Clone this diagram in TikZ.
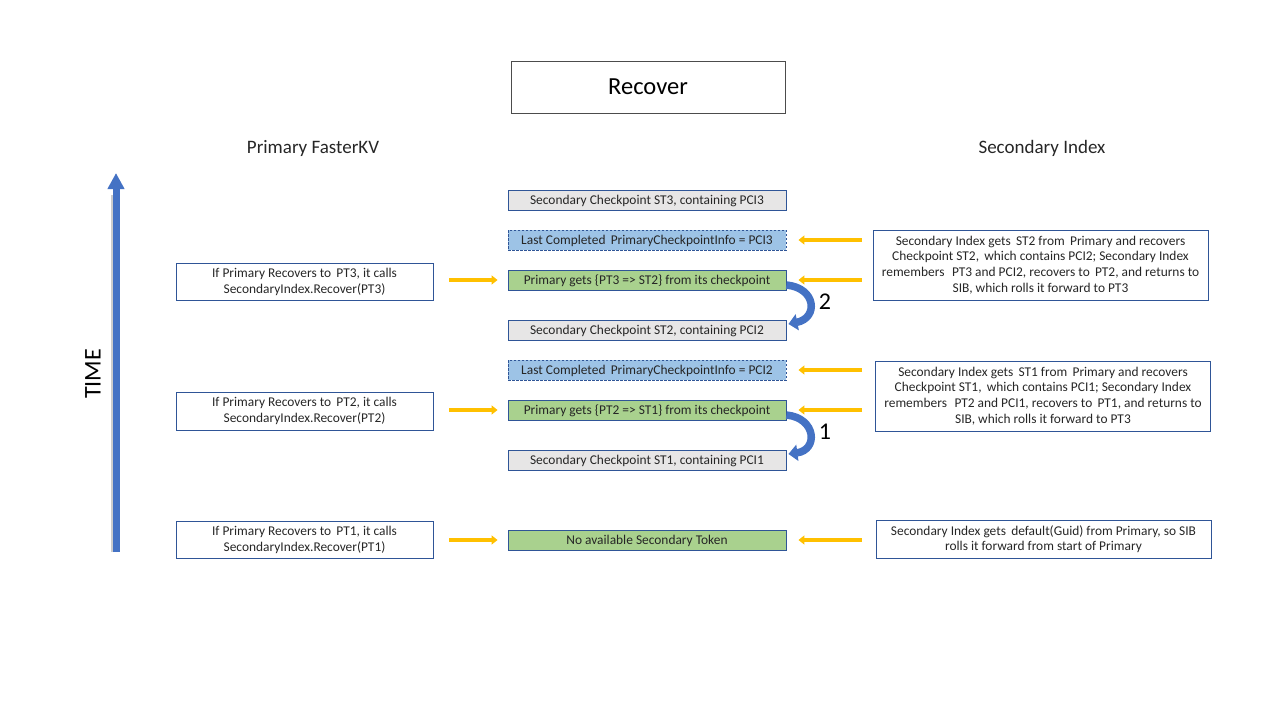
\documentclass[tikz,border=0pt]{standalone}
\usepackage{fontspec}
\setmainfont{Carlito}
\usetikzlibrary{arrows.meta,calc}
\definecolor{bord}{HTML}{2F5597}
\definecolor{grayfill}{HTML}{E7E6E6}
\definecolor{bluefill}{HTML}{9DC3E6}
\definecolor{greenfill}{HTML}{A9D18E}
\definecolor{yel}{HTML}{FFC000}
\definecolor{tblue}{HTML}{4472C4}
\tikzset{
  cbox/.style={draw=bord, line width=0.9pt, minimum width=278pt, minimum height=20pt, inner sep=0pt,
    font=\fontsize{13.4}{15}\selectfont, text=black!85, text depth=1pt},
  gbox/.style={cbox, fill=grayfill},
  bbox/.style={cbox, fill=bluefill, dashed, dash pattern=on 2.5pt off 1.5pt},
  grbox/.style={cbox, fill=greenfill},
  lbox/.style={draw=bord, line width=0.9pt, minimum width=257pt, inner sep=0pt, align=center,
    font=\fontsize{13.4}{16}\selectfont, text=black!85},
  rbox/.style={draw=bord, line width=0.9pt, minimum width=335pt, inner sep=0pt, align=center,
    font=\fontsize{13.4}{15.6}\selectfont, text=black!85},
  yarrow/.style={draw=yel, line width=3.5pt, -{Triangle[length=6pt,width=9pt]}},
  head/.style={font=\fontsize{19}{22}\selectfont, text=black!85},
  carrow/.style={draw=tblue, line width=7.5pt, -{Triangle[length=9pt,width=16pt]}},
}
\begin{document}
\begin{tikzpicture}[x=1pt,y=-1pt]
\useasboundingbox (0,0) rectangle (1280,720);

% title
\node[draw=black!70, line width=0.8pt, minimum width=274pt, minimum height=52pt, font=\fontsize{24.5}{28}\selectfont] (title) at (648,87) {Recover};

\node[head] (hp) at (313,148) {Primary FasterKV};
\node[head] (hs) at (1042,148) {Secondary Index};

% central column
\node[gbox]  (S3) at (647,200) {Secondary Checkpoint ST3, containing PCI3};
\node[bbox]  (C3) at (647,240) {Last Completed\, PrimaryCheckpointInfo = PCI3};
\node[grbox] (P3) at (647,280) {Primary gets \{PT3 => ST2\} from its checkpoint};
\node[gbox]  (S2) at (647,330) {Secondary Checkpoint ST2, containing PCI2};
\node[bbox]  (C2) at (647,370) {Last Completed\, PrimaryCheckpointInfo = PCI2};
\node[grbox] (P2) at (647,410) {Primary gets \{PT2 => ST1\} from its checkpoint};
\node[gbox]  (S1) at (647,460) {Secondary Checkpoint ST1, containing PCI1};
\node[grbox] (P1) at (647,540) {No available Secondary Token};

% left column
\node[lbox, minimum height=37pt] (L3) at (304.5,281.5) {If Primary Recovers to\, PT3, it calls\\SecondaryIndex.Recover(PT3)};
\node[lbox, minimum height=38pt] (L2) at (304.5,411) {If Primary Recovers to\, PT2, it calls\\SecondaryIndex.Recover(PT2)};
\node[lbox, minimum height=37pt] (L1) at (304.5,539.5) {If Primary Recovers to\, PT1, it calls\\SecondaryIndex.Recover(PT1)};

% right column
\node[rbox, minimum height=70pt] (R3) at (1040.5,265) {Secondary Index gets\, ST2 from\, Primary and recovers\\Checkpoint ST2,\, which contains PCI2; Secondary Index\\remembers\,\, PT3 and PCI2, recovers to\, PT2, and returns to\\SIB, which rolls it forward to PT3};
\node[rbox, minimum height=70pt] (R2) at (1043,396) {Secondary Index gets\, ST1 from\, Primary and recovers\\Checkpoint ST1,\, which contains PCI1; Secondary Index\\remembers\,\, PT2 and PCI1, recovers to\, PT1, and returns to\\SIB, which rolls it forward to PT3};
\node[rbox, minimum height=38pt] (R1) at (1043.5,539) {Secondary Index gets\, default(Guid) from Primary, so SIB\\rolls it forward from start of Primary};

% yellow arrows left -> center
\draw[yarrow] ($(L3.east |- P3.west)+(16,0)$) -- ($(P3.west)+(-10,0)$);
\draw[yarrow] ($(L2.east |- P2.west)+(16,0)$) -- ($(P2.west)+(-10,0)$);
\draw[yarrow] ($(L1.east |- P1.west)+(16,0)$) -- ($(P1.west)+(-10,0)$);

% yellow arrows right -> center
\draw[yarrow] ($(R3.west |- C3.east)+(-11,0)$) -- ($(C3.east)+(12,0)$);
\draw[yarrow] ($(R3.west |- P3.east)+(-11,0)$) -- ($(P3.east)+(12,0)$);
\draw[yarrow] ($(R2.west |- C2.east)+(-13,0)$) -- ($(C2.east)+(12,0)$);
\draw[yarrow] ($(R2.west |- P2.east)+(-13,0)$) -- ($(P2.east)+(12,0)$);
\draw[yarrow] ($(R1.west |- P1.east)+(-14,0)$) -- ($(P1.east)+(12,0)$);

% curved blue arrows
\draw[carrow]
  ($(P3.east)+(0,5)$) .. controls ($(P3.east)+(30,8)$) and ($(P3.east)+(32,38)$) .. ($(S2.east)+(2,-6)$);
\node[font=\fontsize{24}{28}\selectfont] (n2) at (825,302) {2};
\draw[carrow]
  ($(P2.east)+(0,5)$) .. controls ($(P2.east)+(30,8)$) and ($(P2.east)+(32,40)$) .. ($(S1.east)+(2,-6)$);
\node[font=\fontsize{24}{28}\selectfont] (n1) at (825,432) {1};

% TIME arrow
\coordinate (tb) at (116,552);
\coordinate (tt) at (116,173);
\draw[draw=black!20, line width=2pt] ($(tb)+(-4,0)$) -- ($(tt)+(-4,22)$);
\draw[draw=tblue, line width=7pt, -{Triangle[length=16pt,width=16pt]}] (tb) -- (tt);
\node[rotate=90, font=\fontsize{24}{28}\selectfont] (time) at (93,374) {TIME};

\end{tikzpicture}
\end{document}
